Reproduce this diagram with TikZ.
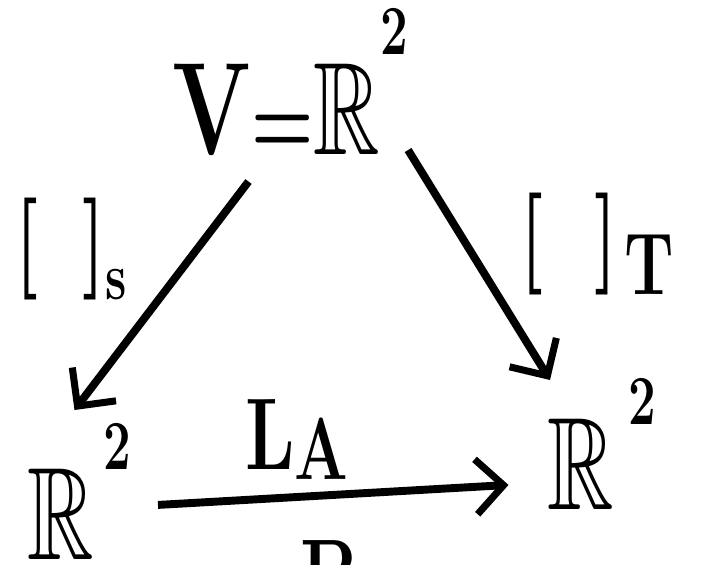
\documentclass[tikz,border=0pt]{standalone}
\usepackage{amsmath, amssymb}
\usetikzlibrary{arrows.meta}

\newcommand{\bbR}{$\mathbb{R}$}
\newcommand{\sqr}[1]{\raisebox{#1}{\fontsize{40}{44}\selectfont 2}}
\newcommand{\lowr}[3]{\raisebox{-#2}{\fontsize{#1}{#1}\selectfont #3}}

\begin{document}
\begin{tikzpicture}[
  sym/.style={font=\fontsize{75}{80}\selectfont\bfseries, xscale=0.7, transform shape, inner sep=2pt},
  lbl/.style={font=\fontsize{58}{62}\selectfont\bfseries, xscale=0.72, transform shape, inner sep=0pt},
  arr/.style={line width=4.5pt, -{Straight Barb[length=0.55cm, width=1.1cm, line width=4pt]}}
]
  \useasboundingbox (0,0) rectangle (14.2,11.3);
  \clip (0,0) rectangle (14.2,11.3);

  \node[sym, anchor=base west] (top) at (3.4, 8.2) {V{\fontsize{58}{60}\selectfont=}\bbR\sqr{2.0cm}};
  \node[sym, anchor=base west] (left) at (0.5, 0.1) {\bbR\kern0.1em\sqr{1.8cm}};
  \node[sym, anchor=base west] (right) at (10.9, 1.1) {\bbR\kern0.15em\sqr{1.7cm}};

  \node[lbl, anchor=base west] (coordS) at (0.3, 5.8) {[\hspace{0.6em}]\lowr{38}{0.5cm}{s}};
  \node[lbl, anchor=base west] (coordT) at (10.4, 5.9) {[\hspace{0.7em}]\kern0.1em\lowr{50}{0.5cm}{T}};
  \node[lbl, anchor=base west] (LA) at (4.9, 1.9) {L\lowr{50}{0.2cm}{A}};
  \node[lbl, anchor=north] (B) at (6.6, 0.5) {B};

  \draw[arr] ([xshift=1.57cm, yshift=-0.43cm]top.south west) -- ([xshift=-0.1cm, yshift=0.2cm]left.north);
  \draw[arr] ([xshift=-0.05cm, yshift=0.2cm]top.south east) -- ([xshift=0.1cm, yshift=-0.1cm]right.north west);
  \draw[arr] ([xshift=0.48cm, yshift=-0.26cm]left.east) -- ([xshift=-0.73cm, yshift=-0.81cm]right.west);
\end{tikzpicture}
\end{document}
